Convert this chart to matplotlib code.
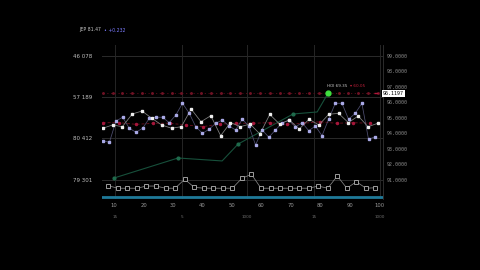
import numpy as np
import matplotlib
matplotlib.use("Agg")
import matplotlib.pyplot as plt

# --- data ---
white_x = np.linspace(6.15, 99.55, 29)
white_y = [94.32, 94.53, 94.42, 95.24, 95.43, 94.96, 94.53, 94.32, 94.42, 95.56,
           94.74, 95.13, 93.84, 94.68, 94.42, 94.59, 93.95, 95.21, 94.59, 94.85,
           94.27, 94.90, 94.53, 95.22, 95.28, 94.68, 95.11, 94.42, 94.64]

lav_x = np.linspace(6.15, 98.64, 42)
lav_y = [93.52, 93.41, 94.79, 95.03, 94.32, 94.06, 94.32, 94.95, 95.03, 95.03,
         94.68, 95.17, 95.93, 95.30, 94.42, 93.99, 94.25, 94.64, 94.85, 94.46,
         94.21, 94.90, 94.46, 93.24, 94.21, 93.74, 94.21, 94.66, 94.85, 94.40,
         94.68, 94.16, 94.46, 93.84, 94.90, 95.93, 95.93, 94.90, 95.28, 95.93,
         93.61, 93.77]

red_x = np.linspace(6.15, 96.9, 17)
red_y = [94.68, 94.68, 94.57, 94.64, 94.64, 94.53, 94.42, 94.59, 94.64, 94.64,
         94.68, 94.57, 94.64, 94.74, 94.64, 94.68, 94.64]

green_x = [9.99, 31.73, 46.68, 52.11, 70.79, 78.94, 82.68]
green_y = [91.11, 92.40, 92.21, 93.30, 95.24, 95.37, 96.59]

sq_x = np.linspace(8.05, 98.74, 29)
sq_y = [90.61, 90.45, 90.45, 90.45, 90.59, 90.59, 90.45, 90.45, 91.03, 90.51,
        90.45, 90.45, 90.45, 90.45, 91.09, 91.35, 90.45, 90.45, 90.45, 90.45,
        90.45, 90.45, 90.59, 90.45, 91.24, 90.45, 90.87, 90.45, 90.48]

ref_level = 96.61
x_ticks = [10, 20, 30, 40, 50, 60, 70, 80, 90, 100]
right_ticks = [91, 92, 93, 94, 95, 96, 97, 98, 99]
left_ticks = [99, 96.333, 93.667, 91]
left_labels = ["46 078", "57 189", "80 412", "79 301"]
sec_ticks = [10.3, 33.1, 55.2, 77.8, 100.3]
sec_labels = ["15", "5", "1000", "15", "1000"]

fig = plt.figure(figsize=(4.8, 2.7), dpi=100, facecolor="black")
ax = fig.add_axes([102 / 480, 1 - 199 / 270, 281 / 480, 154 / 270])
ax.set_facecolor("black")
ax.set_xlim(5.9, 101.3)
ax.set_ylim(89.755, 99.69)

# grid lines
for v in left_ticks:
    ax.axhline(v, color="#2b2b2b", lw=0.7, zorder=0)
for v in sec_ticks:
    ax.axvline(v, color="#262626", lw=0.7, zorder=0)

# dotted red reference line
ax.plot([6.15, 99.55], [ref_level, ref_level], color="#5a0c1a", lw=0.6,
        ls=(0, (1.5, 3)), zorder=1)
ax.plot(white_x, [ref_level] * len(white_x), ls="none", marker="o", ms=1.1,
        color="#6e1224", zorder=1)

# series
ax.plot(green_x, green_y, color="#17503b", lw=0.8, zorder=2)
ax.plot(green_x[:-1], green_y[:-1], ls="none", marker="o", ms=2, color="#1f6b4c",
        markevery=[0, 1, 3, 4], zorder=2)
ax.plot(green_x[-1], green_y[-1], ls="none", marker="o", ms=3.5, color="#3fe03f", zorder=5)

ax.plot(red_x, red_y, color="#5e0d1a", lw=0.7, ls=(0, (3, 2)), zorder=3)
ax.plot(red_x, red_y, ls="none", marker="o", ms=1.5, color="#a5163a", zorder=3)

ax.plot(lav_x, lav_y, color="#4f4f72", lw=0.55, zorder=3)
ax.plot(lav_x, lav_y, ls="none", marker="s", ms=1.5, color="#a9a9e6", zorder=4)

ax.plot(white_x, white_y, color="#858585", lw=0.55, zorder=3)
ax.plot(white_x, white_y, ls="none", marker="s", ms=1.5, color="#eeeeee", zorder=4)

ax.plot(sq_x, sq_y, color="#858585", lw=0.55, zorder=3)
ax.plot(sq_x, sq_y, ls="none", marker="s", ms=3.2, mfc="black", mec="#b5b5b5",
        mew=0.6, zorder=4)

# cyan base bar
ax.axhline(89.88, color="#1f7a99", lw=2, zorder=5)

# spines / ticks
for s in ["top", "bottom", "left"]:
    ax.spines[s].set_visible(False)
ax.spines["right"].set_color("#333333")
ax.spines["right"].set_linewidth(0.6)

ax.set_xticks(x_ticks)
ax.set_xticklabels([str(t) for t in x_ticks])
ax.tick_params(axis="x", length=0, pad=3, labelsize=3.8, colors="#9a9a9a")

ax.set_yticks(left_ticks)
ax.set_yticklabels(left_labels)
ax.tick_params(axis="y", length=0, pad=7, labelsize=4, colors="#c0c0c0")

axr = ax.twinx()
axr.set_ylim(ax.get_ylim())
axr.set_yticks(right_ticks)
axr.set_yticklabels(["%.4f" % t for t in right_ticks], family="DejaVu Sans Mono")
axr.tick_params(axis="y", length=0, pad=3, labelsize=3.6, colors="#8a8a8a")
for s in axr.spines.values():
    s.set_visible(False)

# secondary x labels
for t, lab in zip(sec_ticks, sec_labels):
    ax.text(t, -0.12, lab, transform=ax.get_xaxis_transform(), ha="center",
            va="center", fontsize=3, color="#707070")

# value tag on the right axis
ax.text(1.0, ref_level - 0.04, "96.1197", transform=ax.get_yaxis_transform(),
        ha="left", va="center", fontsize=3.6, family="DejaVu Sans Mono", color="black",
        bbox=dict(boxstyle="square,pad=0.25", fc="white", ec="none"), zorder=6)
ax.plot(99.0, ref_level - 0.04, ls="none", marker="_", ms=3, color="#b0183a", zorder=6)

# header + annotation
fig.text(79 / 480, 1 - 30 / 270, "JEP 81.47", fontsize=3.3, color="#c8c8c8", va="center")
fig.text(104.5 / 480, 1 - 30 / 270, "\u2022 +0.232", fontsize=3.3, color="#7c7cff", va="center")
fig.text(327 / 480, 1 - 86 / 270, "HOl 69.35", fontsize=3, color="#c8c8c8", va="center")
fig.text(350 / 480, 1 - 86 / 270, "\u25be 60.05", fontsize=3, color="#c0203a", va="center")

fig.savefig("out.png", dpi=100, facecolor="black")
